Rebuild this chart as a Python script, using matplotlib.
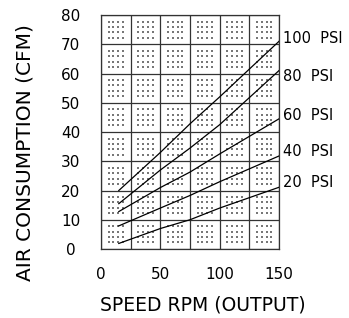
import matplotlib
matplotlib.use("Agg")
import matplotlib.pyplot as plt
import numpy as np

# speed (rpm) where the readings were taken
speed = [15, 50, 75, 100, 150]

# air consumption (cfm) per supply pressure
psi_100 = [20.0, 33.0, 42.8, 52.0, 71.0]
psi_80 = [15.5, 27.0, 34.5, 42.5, 61.0]
psi_60 = [12.8, 21.0, 26.3, 32.5, 44.5]
psi_40 = [7.9, 14.0, 18.3, 23.0, 31.8]
psi_20 = [1.9, 7.0, 10.0, 14.0, 21.1]

curves = [psi_100, psi_80, psi_60, psi_40, psi_20]
curve_labels = ["100  PSI", "80  PSI", "60  PSI", "40  PSI", "20  PSI"]
label_y = [72.1, 59.1, 45.8, 33.2, 22.6]

x_ticks = [0, 50, 100, 150]
y_ticks = [0, 10, 20, 30, 40, 50, 60, 70, 80]

plt.rcParams['font.family'] = ['DejaVu Sans']

fig = plt.figure(figsize=(3.49, 3.18), dpi=100)
ax = fig.add_axes([101 / 349, 1 - 249 / 318, 178 / 349, 234 / 318])
ax.set_xlim(0, 150)
ax.set_ylim(0, 80)

# grid of cells
for gx in np.arange(0, 151, 25):
    ax.axvline(gx, color='#333333', lw=0.9, zorder=1)
for gy in np.arange(0, 81, 10):
    ax.axhline(gy, color='#333333', lw=0.9, zorder=1)

# 4x4 dot pattern inside each cell
fx = np.array([0.26, 0.42, 0.58, 0.74]) * 25
fy = np.array([0.23, 0.41, 0.59, 0.77]) * 10
dx, dy = [], []
for cx in np.arange(0, 150, 25):
    for cy in np.arange(0, 80, 10):
        for a in fx:
            for b in fy:
                dx.append(cx + a)
                dy.append(cy + b)
ax.scatter(dx, dy, s=0.8, marker='s', color='#777777', linewidths=0, zorder=2)

for vals in curves:
    ax.plot(speed, vals, color='black', lw=0.9, zorder=3)

for txt, yy in zip(curve_labels, label_y):
    ax.text(153.4, yy, txt, fontsize=10.5, va='center', ha='left', clip_on=False)

for s in ax.spines.values():
    s.set_color('#333333')
    s.set_linewidth(0.9)

ax.set_xticks(x_ticks)
ax.set_yticks(y_ticks)
ax.tick_params(length=0, labelsize=11)
ax.tick_params(axis='y', pad=22)
ax.tick_params(axis='x', pad=13)
for lab in ax.get_yticklabels():
    lab.set_ha('center')

fig.text(203 / 349, 1 - 305 / 318, "SPEED RPM (OUTPUT)", fontsize=13.5,
         ha='center', va='center')
fig.text(25 / 349, 1 - 153 / 318, "AIR CONSUMPTION (CFM)", fontsize=14.5,
         ha='center', va='center', rotation=90)

fig.savefig("out.png", dpi=100, facecolor='white')
